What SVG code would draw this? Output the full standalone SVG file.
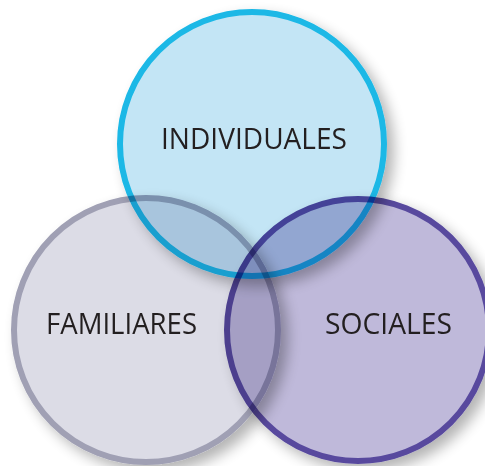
<svg xmlns="http://www.w3.org/2000/svg" width="485" height="466" viewBox="0 0 485 466">
  <defs>
    <filter id="shadow" x="-20%" y="-20%" width="150%" height="150%">
      <feGaussianBlur in="SourceAlpha" stdDeviation="7"/>
      <feOffset dx="7" dy="7" result="b"/>
      <feComponentTransfer in="b" result="s">
        <feFuncA type="linear" slope="0.3"/>
      </feComponentTransfer>
      <feMerge>
        <feMergeNode in="s"/>
        <feMergeNode in="SourceGraphic"/>
      </feMerge>
    </filter>
  </defs>
  <style>
    .node { mix-blend-mode: multiply; }
    .c { stroke-width: 6; filter: url(#shadow); }
    .label { font-family: "Open Sans", "Noto Sans", "Liberation Sans", sans-serif; font-size: 29px; fill: #231f20; text-anchor: middle; }
  </style>
  <rect width="485" height="466" fill="#ffffff"/>
  <g id="connectors"></g>
  <g id="familiares" class="node">
    <circle class="c" cx="146" cy="330" r="132" fill="#dcdce6" stroke="#a0a0b4"/>
  </g>
  <g id="individuales" class="node">
    <circle class="c" cx="252" cy="144" r="132" fill="#c3e5f5" stroke="#1bb8e6"/>
  </g>
  <g id="sociales" class="node">
    <circle class="c" cx="358" cy="330" r="131" fill="#bfb9da" stroke="#584a9e"/>
  </g>
  <g id="labels">
    <text class="label" x="254" y="149" textLength="186" lengthAdjust="spacingAndGlyphs">INDIVIDUALES</text>
    <text class="label" x="121.5" y="334" textLength="151" lengthAdjust="spacingAndGlyphs">FAMILIARES</text>
    <text class="label" x="388.5" y="334" textLength="127" lengthAdjust="spacingAndGlyphs">SOCIALES</text>
  </g>
</svg>
